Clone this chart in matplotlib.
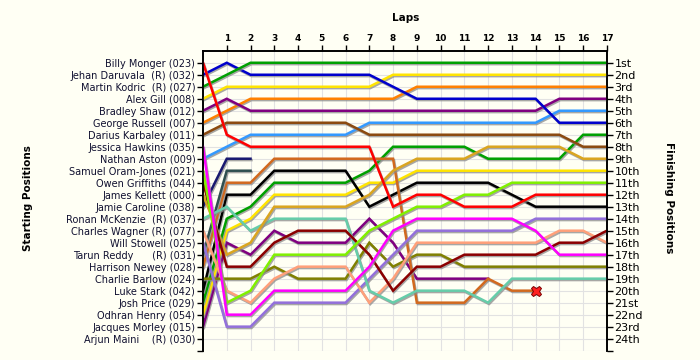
import numpy as np
import matplotlib.pyplot as plt
import matplotlib.patheffects as pe

drivers = ['Billy Monger (023)', 'Jehan Daruvala  (R) (032)', 'Martin Kodric  (R) (027)',
           'Alex Gill (008)', 'Bradley Shaw (012)', 'George Russell (007)',
           'Darius Karbaley (011)', 'Jessica Hawkins (035)', 'Nathan Aston (009)',
           'Samuel Oram-Jones (021)', 'Owen Griffiths (044)', 'James Kellett (000)',
           'Jamie Caroline (038)', 'Ronan McKenzie  (R) (037)', 'Charles Wagner (R) (077)',
           'Will Stowell (025)', 'Tarun Reddy      (R) (031)', 'Harrison Newey (028)',
           'Charlie Barlow (024)', 'Luke Stark (042)', 'Josh Price (029)',
           'Odhran Henry (054)', 'Jacques Morley (015)', 'Arjun Maini    (R) (030)']
ordinals = ['1st', '2nd', '3rd', '4th', '5th', '6th', '7th', '8th', '9th', '10th',
            '11th', '12th', '13th', '14th', '15th', '16th', '17th', '18th', '19th',
            '20th', '21st', '22nd', '23rd', '24th']

# position at the end of each lap (lap 0 = grid)
monger   = [1, 7, 8, 8, 8, 8, 8, 8, 13, 12, 12, 13, 13, 13, 12, 12, 12, 12]
daruvala = [2, 1, 2, 2, 2, 2, 2, 2, 3, 4, 4, 4, 4, 4, 4, 6, 6, 6]
kodric   = [3, 2, 1, 1, 1, 1, 1, 1, 1, 1, 1, 1, 1, 1, 1, 1, 1, 1]
gill     = [4, 3, 3, 3, 3, 3, 3, 3, 2, 2, 2, 2, 2, 2, 2, 2, 2, 2]
shaw     = [5, 4, 5, 5, 5, 5, 5, 5, 5, 5, 5, 5, 5, 5, 5, 4, 4, 4]
russell  = [6, 5, 4, 4, 4, 4, 4, 4, 4, 3, 3, 3, 3, 3, 3, 3, 3, 3]
karbaley = [7, 6, 6, 6, 6, 6, 6, 7, 7, 7, 7, 7, 7, 7, 7, 7, 8, 8]
hawkins  = [8, 22, 22, 20, 20, 20, 20, 18, 15, 14, 14, 14, 14, 14, 15, 17, 17, 17]
aston    = [9, 8, 7, 7, 7, 7, 7, 6, 6, 6, 6, 6, 6, 6, 6, 5, 5, 5]
oram     = [10, 21, 20, 17, 17, 17, 17, 15, 14, 13, 13, 12, 12, 11, 11, 11, 11, 11]
griffith = [11, 18, 18, 16, 15, 15, 15, 17, 20, 18, 18, 17, 17, 17, 17, 16, 16, 15]
kellett  = [12, 17, 16, 13, 13, 13, 13, 12, 10, 9, 9, 9, 8, 8, 8, 8, 9, 9]
caroline = [13, 9, 9]
mckenzie = [14, 13, 15, 14, 14, 14, 14, 20, 21, 20, 20, 20, 21, 19, 19, 19, 19, 19]
wagner   = [15, 20, 21, 19, 18, 18, 18, 21, 19, 16, 16, 16, 16, 16, 16, 15, 15, 16]
stowell  = [16, 23, 23, 21, 21, 21, 21, 19, 17, 15, 15, 15, 15, 15, 14, 14, 14, 14]
reddy    = [17, 10, 10]
newey    = [18, 11, 11, 9, 9, 9, 9, 9, 9, 21, 21, 21, 19, 20, 20]
barlow   = [19, 19, 19, 18, 19, 19, 19, 16, 18, 17, 17, 18, 18, 18, 18, 18, 18, 18]
stark    = [20, 12, 12, 10, 10, 10, 10, 13, 12, 11, 11, 11, 11, 12, 13, 13, 13, 13]
price    = [21, 14, 13, 11, 11, 11, 11, 10, 8, 8, 8, 8, 9, 9, 9, 9, 7, 7]
henry    = [22, 15, 14, 12, 12, 12, 12, 11, 11, 10, 10, 10, 10, 10, 10, 10, 10, 10]
morley   = [23, 16, 17, 15, 16, 16, 16, 14, 16, 19, 19, 19, 19]

series = [
    (morley, '#800080'), (henry, '#FFE400'), (price, '#00A000'), (stark, '#000000'),
    (barlow, '#808000'), (newey, '#D2691E'), (reddy, '#2F4F4F'), (stowell, '#9370DB'),
    (wagner, '#FFA07A'), (mckenzie, '#66CDAA'), (caroline, '#191970'), (kellett, '#DAA520'),
    (griffith, '#8B0000'), (oram, '#80F000'), (aston, '#3399FF'), (hawkins, '#FF00FF'),
    (karbaley, '#8B4A10'), (russell, '#FF8000'), (shaw, '#800080'), (gill, '#FFE400'),
    (daruvala, '#0000CC'), (kodric, '#00A000'), (monger, '#FF0000'),
]

bg = '#FFFFF4'
fig = plt.figure(figsize=(7, 3.6), dpi=100, facecolor=bg)
ax = fig.add_axes([0.29, 0.026, 0.577, 0.833], facecolor=bg)

shadow = [pe.SimpleLineShadow(offset=(0.7, -1.0), shadow_color='#8a8a8a', alpha=0.75), pe.Normal()]
for pos, col in series:
    ax.plot(range(len(pos)), pos, color=col, lw=1.8, solid_joinstyle='miter',
            path_effects=shadow, zorder=3)

# retirement marker
ax.plot(len(newey) - 1, newey[-1], marker='X', ms=7.5, color='#FF2020', mec='#7a0000', mew=0.7, zorder=5)

ax.set_xlim(0, 17)
ax.set_ylim(25, 0)

ax.xaxis.tick_top()
ax.set_xticks(range(1, 18))
ax.set_xticklabels([str(i) for i in range(1, 18)], fontsize=6.5, fontweight='bold')
ax.set_yticks(range(1, 26))
ax.set_yticklabels(drivers + [''], fontsize=7, color='#101030')
ax.tick_params(axis='both', direction='out', length=4, width=1, pad=1.5)
ax.grid(True, color='#e2e2e2', lw=0.8, zorder=0)

ax2 = ax.twinx()
ax2.set_ylim(25, 0)
ax2.set_yticks(range(1, 26))
ax2.set_yticklabels(ordinals + [''], fontsize=8)
ax2.tick_params(axis='y', direction='out', length=4, width=1, pad=1.5)

for a in (ax, ax2):
    a.spines['bottom'].set_visible(False)
    for s in ('left', 'right', 'top'):
        a.spines[s].set_linewidth(1.2)

fig.text(0.579, 0.95, 'Laps', fontsize=7.5, fontweight='bold', ha='center', va='center')
fig.text(0.04, 0.45, 'Starting Positions', fontsize=7.5, fontweight='bold', rotation=90,
         ha='center', va='center')
fig.text(0.955, 0.45, 'Finishing Positions', fontsize=7.5, fontweight='bold', rotation=-90,
         ha='center', va='center')

plt.savefig('out.png', dpi=100, facecolor=bg)
